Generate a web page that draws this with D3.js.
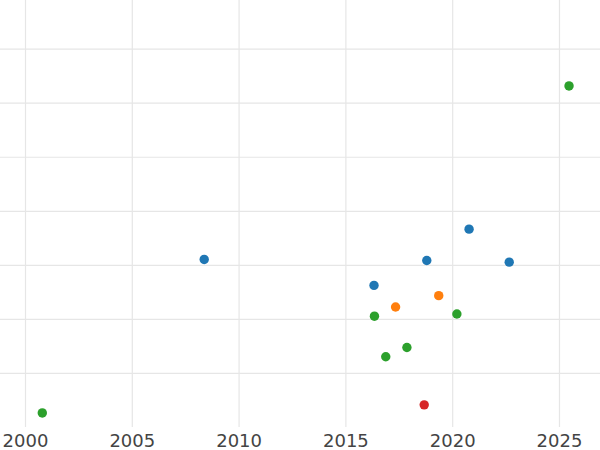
<!DOCTYPE html>
<html>
<head>
<meta charset="utf-8">
<script src="https://cdn.jsdelivr.net/npm/d3@7"></script>
<style>
  html, body { margin: 0; padding: 0; background: #fff; }
  svg { display: block; }
</style>
</head>
<body>
<svg id="chart" width="600" height="450"></svg>
<script>
// Data
const years  = [2000.81, 2008.39, 2020.79, 2018.81, 2022.67, 2016.34, 2019.37, 2017.35, 2016.36, 2020.22, 2017.88, 2016.89, 2018.69, 2025.47];
const values = [0.26,    3.10,    3.66,    3.08,    3.05,    2.62,    2.43,    2.22,    2.05,    2.09,    1.47,    1.30,    0.41,    6.31];
const groups = ["C",     "A",     "A",     "A",     "A",     "A",     "B",     "B",     "C",     "C",     "C",     "C",     "D",     "C"];
const groupNames = ["A", "B", "C", "D"];
const xTicks = [2000, 2005, 2010, 2015, 2020, 2025];
const yTicks = [1, 2, 3, 4, 5, 6, 7];

const plot = { left: 0, right: 600, top: 0, bottom: 427 };

const svg = d3.select("#chart");

const x = d3.scaleLinear().domain([1998.83, 2026.92]).range([plot.left, plot.right]);
const y = d3.scaleLinear().domain([0, 7.9]).range([plot.bottom, plot.top]);
const color = d3.scaleOrdinal().domain(groupNames).range(["#1f77b4", "#ff7f0e", "#2ca02c", "#d62728"]);

const gridColor = "#e6e6e6";
const gridWidth = 1.2;

// horizontal gridlines
svg.append("g")
  .attr("class", "ygrid")
  .attr("transform", `translate(${plot.left},0)`)
  .call(d3.axisLeft(y).tickValues(yTicks).tickSize(-(plot.right - plot.left)).tickFormat(""))
  .call(g => g.select(".domain").remove())
  .call(g => g.selectAll("line").attr("stroke", gridColor).attr("stroke-width", gridWidth));

// vertical gridlines
svg.append("g")
  .attr("class", "xgrid")
  .attr("transform", `translate(0,${plot.bottom})`)
  .call(d3.axisBottom(x).tickValues(xTicks).tickSize(-(plot.bottom - plot.top)).tickFormat(""))
  .call(g => g.select(".domain").remove())
  .call(g => g.selectAll("line").attr("stroke", gridColor).attr("stroke-width", gridWidth));

// x axis labels
svg.append("g")
  .attr("class", "xaxis")
  .attr("transform", `translate(0,${plot.bottom})`)
  .call(d3.axisBottom(x).tickValues(xTicks).tickSize(0).tickPadding(0).tickFormat(d3.format("d")))
  .call(g => g.select(".domain").remove())
  .call(g => g.selectAll("text")
    .attr("dy", null)
    .attr("y", 20)
    .attr("fill", "#444")
    .style("font-family", "'DejaVu Sans', sans-serif")
    .style("font-size", "18px"));

// points
const pts = years.map((yr, i) => ({ yr, v: values[i], g: groups[i] }));
svg.append("g")
  .selectAll("circle")
  .data(pts)
  .join("circle")
  .attr("cx", d => x(d.yr))
  .attr("cy", d => y(d.v))
  .attr("r", 4.7)
  .attr("fill", d => color(d.g));
</script>
</body>
</html>
